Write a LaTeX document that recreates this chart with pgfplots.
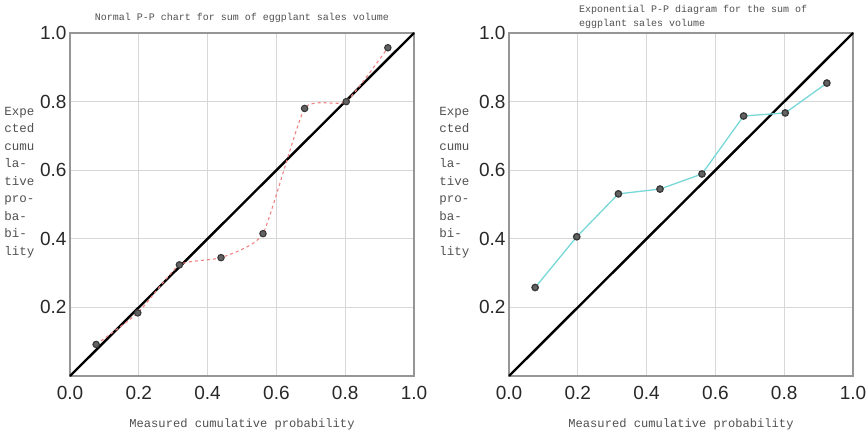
\documentclass[border=0pt]{standalone}
\usepackage{pgfplots}
\pgfplotsset{compat=1.18}
\usepackage{fontspec}
\setmainfont{Liberation Sans}
\newfontfamily\monof{Liberation Mono}
\newfontfamily\tickf{Liberation Sans}

\definecolor{gridgray}{RGB}{215,215,215}
\definecolor{framegray}{RGB}{150,150,150}
\definecolor{ticktext}{RGB}{40,40,40}
\definecolor{labeltext}{RGB}{80,80,80}
\definecolor{pinkred}{RGB}{240,130,130}
\definecolor{cyanline}{RGB}{120,215,215}
\definecolor{markgray}{RGB}{70,70,70}

\pgfplotsset{
  ppstyle/.style={
    width=344pt, height=343pt, scale only axis,
    xmin=0, xmax=1, ymin=0, ymax=1,
    xtick={0,0.2,0.4,0.6,0.8,1.0},
    ytick={0.2,0.4,0.6,0.8,1.0},
    major tick length=0pt,
    grid=major,
    major grid style={gridgray, line width=1pt},
    axis line style={framegray, line width=1.2pt},
    /pgf/number format/assume math mode=true,
    /pgf/number format/fixed,
    /pgf/number format/fixed zerofill,
    /pgf/number format/precision=1,
    tick label style={font=\tickf\fontsize{19}{19}\selectfont, text=ticktext},
    xticklabel style={yshift=-7pt},
    yticklabel style={xshift=0pt},
    label style={font=\monof\fontsize{12.1}{17.5}\selectfont, text=labeltext},
    xlabel style={at={(axis description cs:0.5,-0.14)}, anchor=center},
    ylabel style={rotate=-90, align=left, anchor=east, font=\monof\fontsize{12.5}{17.5}\selectfont},
    title style={font=\monof\fontsize{10}{14}\selectfont, text=labeltext, yshift=0pt, inner sep=0pt},
    clip=false,
  },
  ppmark/.style={mark=*, mark size=3.2pt, mark options={solid, draw=markgray!80!black, fill=markgray!85}},
}

\begin{document}
\begin{tikzpicture}
\path[use as bounding box] (0,0) rectangle (868pt,434pt);

% left panel: normal P-P
\begin{axis}[ppstyle, at={(70pt,58pt)}, anchor=south west,
  title={Normal P-P chart for sum of eggplant sales volume},
  title style={at={(axis description cs:0.5,1.027)}, anchor=center},
  xlabel={Measured cumulative probability},
  ylabel={Expe\\cted\\cumu\\la-\\tive\\pro-\\ba-\\bi-\\lity},
  ylabel style={at={(axis description cs:-0.093,0.565)}},
]
\addplot[black, line width=2.4pt] coordinates {(0,0) (1,1)};
\addplot[pinkred, line width=1.1pt, dashed, smooth, tension=0.3, ppmark] coordinates {
  (0.076,0.092) (0.197,0.184) (0.318,0.324) (0.439,0.345)
  (0.561,0.415) (0.682,0.780) (0.803,0.800) (0.924,0.957)
};
\end{axis}

% right panel: exponential P-P
\begin{axis}[ppstyle, at={(509pt,58pt)}, anchor=south west,
  title={Exponential P-P diagram for the sum of\\eggplant sales volume},
  title style={align=left, at={(axis description cs:0.203,1.065)}, anchor=north west},
  xlabel={Measured cumulative probability},
  ylabel={Expe\\cted\\cumu\\la-\\tive\\pro-\\ba-\\bi-\\lity},
  ylabel style={at={(axis description cs:-0.105,0.565)}},
]
\addplot[black, line width=2.4pt] coordinates {(0,0) (1,1)};
\addplot[cyanline, line width=1.3pt, ppmark] coordinates {
  (0.076,0.258) (0.197,0.406) (0.318,0.531) (0.439,0.545)
  (0.561,0.589) (0.682,0.758) (0.803,0.767) (0.924,0.854)
};
\end{axis}
\end{tikzpicture}
\end{document}
